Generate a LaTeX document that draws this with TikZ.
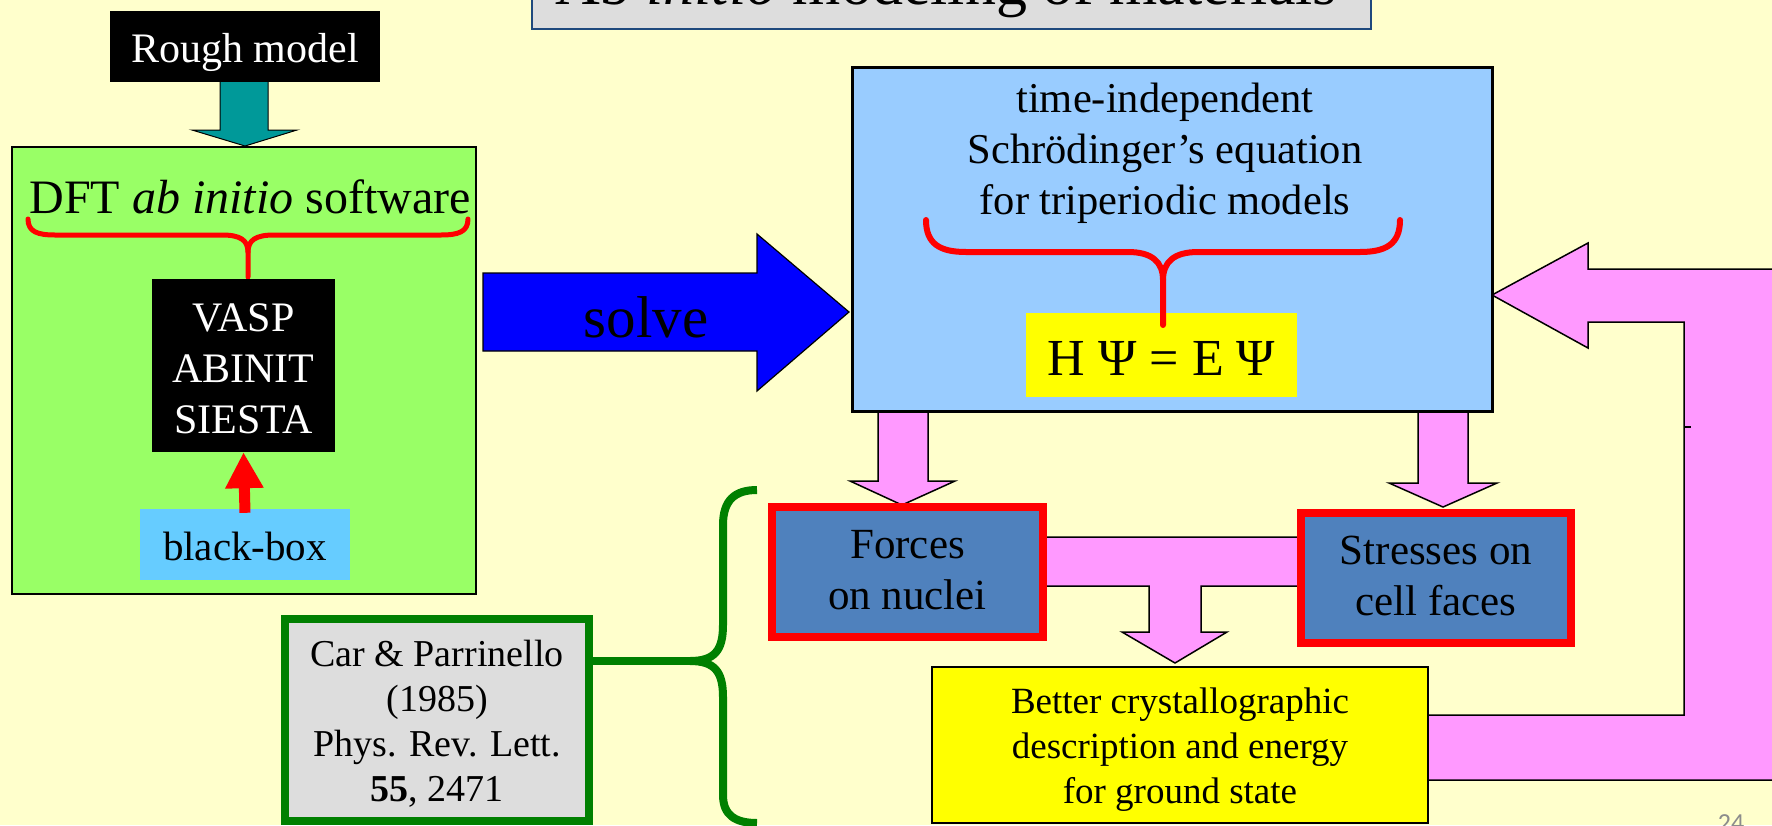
\documentclass[tikz,border=0pt]{standalone}
\usepackage{fontspec}
\setmainfont{Liberation Serif}
\newfontfamily\numfont{Carlito}
\usetikzlibrary{arrows.meta}
\definecolor{bgy}{HTML}{FFFFCC}
\definecolor{titlegray}{HTML}{DDDDDD}
\definecolor{titleblue}{HTML}{1F497D}
\definecolor{greenbox}{HTML}{99FF66}
\definecolor{tealarrow}{HTML}{009999}
\definecolor{lightblue}{HTML}{99CCFF}
\definecolor{bbblue}{HTML}{66CCFF}
\definecolor{pinkarrow}{HTML}{FF99FF}
\definecolor{steel}{HTML}{4F81BD}
\definecolor{yellowbox}{HTML}{FFFF00}
\definecolor{greenline}{HTML}{008000}
\definecolor{graybox}{HTML}{DDDDDD}
\definecolor{solveblue}{HTML}{0000FF}
\definecolor{pagegray}{HTML}{8C8C8C}
\newcommand\setfs[2]{\fontsize{#1}{#2}\selectfont}
\begin{document}
\begin{tikzpicture}[x=1pt,y=-1pt,
  box/.style={rectangle, inner sep=0pt, align=center},
  plainbox/.style={rectangle, inner sep=0pt},
  blockarrow/.style={draw=black, line width=1.5pt, line join=miter},
  bracered/.style={draw=red, line join=round, line cap=round},
  txt/.style={inner sep=0pt, anchor=base, align=center}]
\useasboundingbox (0,0) rectangle (1772,825);
\fill[bgy] (0,0) rectangle (1772,825);

% title
\node[plainbox, draw=titleblue, line width=2.5pt, fill=titlegray, minimum width=839pt, minimum height=120pt] (title) at (951.5,-31) {};
\node[txt, font=\setfs{62}{74}] (titletext) at (946,4) {Ab \textit{initio} modeling of materials};

% rough model + teal arrow
\filldraw[blockarrow, fill=tealarrow, line width=1pt] (220,78) -- (268,78) -- (268,130) -- (297,130) -- (245,146) -- (192,130) -- (220,130) -- cycle;
\node[box, fill=black, text=white, minimum width=270pt, minimum height=71pt, text height=31pt, text depth=0pt, font=\setfs{42}{51}] (rough) at (245,46.5) {Rough model};

% green DFT box
\node[plainbox, draw=black, line width=2.5pt, fill=greenbox, minimum width=464pt, minimum height=447pt] (dft) at (244,370.5) {};
\node[txt, font=\setfs{48}{58}] (dftlabel) at (250,213) {DFT \textit{ab initio} software};
\draw[bracered, line width=5pt] (28,219) .. controls (28,232) and (38,235) .. (55,235) -- (222,235) .. controls (240,235) and (248,240) .. (248,252) -- (248,277);
\draw[bracered, line width=5pt] (468,219) .. controls (468,232) and (458,235) .. (441,235) -- (274,235) .. controls (256,235) and (248,240) .. (248,252);
\node[box, fill=black, text=white, minimum width=183pt, minimum height=173pt, text height=135pt, text depth=0pt, font=\setfs{42}{51}] (vasp) at (243.5,365.5) {VASP\\ABINIT\\SIESTA};
\node[box, fill=bbblue, minimum width=210pt, minimum height=71pt, text height=31pt, text depth=0pt, font=\setfs{41}{49}] (bb) at (245,544.5) {black-box};
\draw[red, line width=11pt, -{Triangle[width=36pt,length=36pt]}] ([yshift=-4pt]bb.north) -- (vasp.south);

% solve arrow
\filldraw[blockarrow, fill=solveblue, line width=1.2pt] (483,273) -- (757,273) -- (757,234) -- (849,312) -- (757,391) -- (757,351) -- (483,351) -- cycle;
\node[txt, font=\setfs{59}{70}] (solve) at (646,337) {solve};

% feedback arrow
\filldraw[blockarrow, fill=pinkarrow] (1400,715) -- (1684,715) -- (1684,322) -- (1588,322) -- (1588,348) -- (1492,295) -- (1588,243) -- (1588,269) -- (1800,269) -- (1800,780) -- (1400,780) -- cycle;
\draw[line width=1.5pt] (1684,427) -- (1691,427);

% down arrows from the Schroedinger box
\filldraw[blockarrow, fill=pinkarrow] (878,400) -- (928,400) -- (928,481) -- (955,481) -- (902,505) -- (850,481) -- (878,481) -- cycle;
\filldraw[blockarrow, fill=pinkarrow] (1418,400) -- (1468,400) -- (1468,483) -- (1497,483) -- (1443,507) -- (1389,483) -- (1418,483) -- cycle;

% Schroedinger box
\node[plainbox, draw=black, line width=3pt, fill=lightblue, minimum width=640pt, minimum height=344pt] (schro) at (1172,239) {};
\node[txt, font=\setfs{42.5}{51}] (schrotext) at (1165,214) {time-independent\\Schrödinger’s equation\\for triperiodic models};
\node[box, fill=yellowbox, minimum width=271pt, minimum height=84pt, text height=40pt, text depth=0pt, font=\setfs{52}{62}] (eq) at (1161.5,355) {H Ψ = E Ψ};
\draw[bracered, line width=6pt] (926,220) .. controls (926,244) and (940,252) .. (966,252) -- (1128,252) .. controls (1152,252) and (1163,262) .. (1163,280) -- (1163,325);
\draw[bracered, line width=6pt] (1400,220) .. controls (1400,244) and (1386,252) .. (1360,252) -- (1198,252) .. controls (1174,252) and (1163,262) .. (1163,280);

% T connector
\filldraw[blockarrow, fill=pinkarrow] (1040,537) -- (1300,537) -- (1300,586) -- (1201,586) -- (1201,632) -- (1227,632) -- (1175,663) -- (1122,632) -- (1149,632) -- (1149,586) -- (1040,586) -- cycle;

% Forces / Stresses
\node[box, draw=red, line width=8pt, fill=steel, minimum width=271pt, minimum height=130pt, text height=74pt, text depth=0pt, font=\setfs{43}{51}] (forces) at (907.5,572) {Forces\\on nuclei};
\node[box, draw=red, line width=8pt, fill=steel, minimum width=270pt, minimum height=130pt, text height=74pt, text depth=0pt, font=\setfs{43}{51}] (stresses) at (1436,578) {Stresses on\\cell faces};

% Better box
\node[box, draw=black, line width=2.5pt, fill=yellowbox, minimum width=496pt, minimum height=156pt, text height=116pt, text depth=0pt, font=\setfs{37}{45}] (better) at (1180,745) {Better crystallographic\\description and energy\\for ground state};

% Car & Parrinello
\node[box, draw=greenline, line width=8pt, fill=graybox, minimum width=304pt, minimum height=202pt, text height=162pt, text depth=0pt, font=\setfs{38}{45}] (car) at (437,720) {Car \& Parrinello\\(1985)\\Phys. Rev. Lett.\\\textbf{55}, 2471};
\coordinate (gtip) at (690,661);
\draw[greenline, line width=8pt] (gtip -| car.east) -- (gtip);
\draw[greenline, line width=8pt, line join=round] (757,490) .. controls (735,490) and (723,500) .. (723,525) -- (723,625) .. controls (723,650) and (715,661) .. (gtip) .. controls (715,661) and (723,672) .. (723,697) -- (723,795) .. controls (723,815) and (735,823) .. (757,823);

% page number
\node[txt, text=pagegray, font=\numfont\setfs{26}{31}] (pagenum) at (1731,831) {24};
\end{tikzpicture}
\end{document}
